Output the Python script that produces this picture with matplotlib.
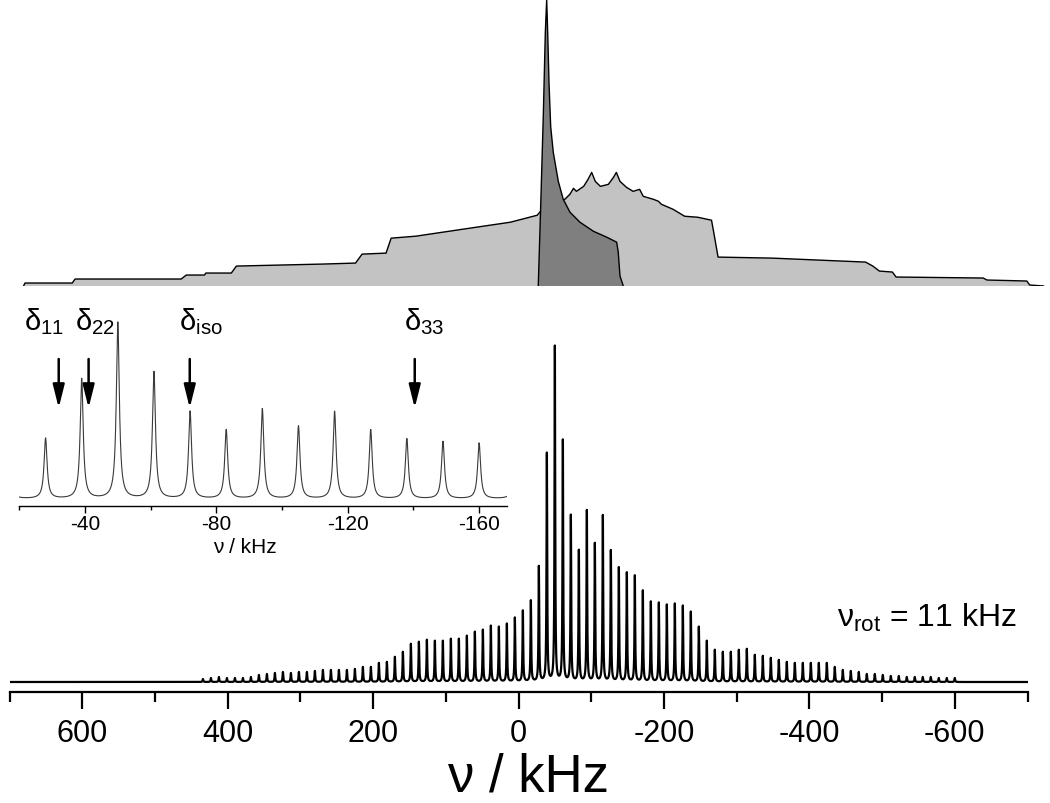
import matplotlib
matplotlib.use("Agg")
import matplotlib.pyplot as plt
import numpy as np
from matplotlib.ticker import FixedLocator, MultipleLocator

plt.rcParams['font.family'] = ['Liberation Sans', 'DejaVu Sans']
plt.rcParams['mathtext.fontset'] = 'custom'
plt.rcParams['mathtext.rm'] = 'Liberation Sans'
plt.rcParams['mathtext.it'] = 'Liberation Sans'
plt.rcParams['mathtext.default'] = 'regular'
plt.rcParams['axes.unicode_minus'] = False

# spinning sidebands of the MAS spectrum (nu_rot = 11 kHz)
sideband_khz = [434, 423, 412, 401, 390, 379, 368, 357, 346, 335, 324, 313, 302,
                291, 280, 269, 258, 247, 236, 225, 214, 203, 192, 181, 170, 159,
                148, 137, 126, 115, 104, 93, 82, 71, 60, 49, 38, 27, 16, 5, -6,
                -17, -28, -39, -50, -61, -72, -83, -94, -105, -116, -127, -138,
                -149, -160, -171, -182, -193, -204, -215, -226, -237, -248, -259,
                -270, -281, -292, -303, -314, -325, -336, -347, -358, -369, -380,
                -391, -402, -413, -424, -435, -446, -457, -468, -479, -490, -501,
                -512, -523, -534, -545, -556, -567, -578, -589, -600]
sideband_int = [3, 4, 5, 4, 4, 4, 5, 7, 8, 9, 10, 9, 10,
                10, 11, 12, 12, 12, 12, 13, 15, 15, 19, 20, 25, 30,
                38, 40, 42, 41, 41, 43, 43, 46, 50, 52, 56, 55, 58, 64, 71,
                81, 115, 228, 335, 241, 166, 131, 171, 138, 166, 131, 114,
                109, 106, 91, 80, 79, 77, 78, 76, 70, 55, 41,
                32, 30, 30, 32, 33, 27, 26, 24, 22, 20, 19,
                19, 19, 19, 19, 15, 12, 11, 10, 8, 8, 7,
                6, 6, 5, 5, 5, 5, 4, 4, 4]
line_hwhm_khz = 0.55
inset_scale = 1 / 1.9

# simulated static pattern (top): total and second site
sim_total_khz = [681, 679, 614, 610, 464, 457, 432, 430, 395, 388, 270, 224, 215,
                 182, 175, 141, 67, 11, -26, -33, -64, -71, -76, -80, -90, -96,
                 -101, -106, -113, -124, -131, -135, -140, -149, -158, -167, -172,
                 -186, -193, -197, -213, -229, -247, -266, -269, -275, -349, -478,
                 -488, -497, -515, -520, -640, -645, -700, -704, -723]
sim_total_int = [0, 3, 3, 7, 7, 11, 11, 13, 13, 20, 22, 23, 32,
                 33, 48, 50, 58, 64, 71, 77, 87, 92, 98, 95, 100, 107,
                 114, 105, 100, 102, 109, 114, 105, 99, 95, 97, 90,
                 87, 85, 82, 77, 70, 69, 66, 54, 29, 28, 24,
                 20, 15, 14, 9, 8, 6, 5, 1, 0]
sim_site_khz = [-27.5, -30.6, -34.4, -37.2, -39.1, -40.5, -42.3, -44.6, -48.2,
                -55.1, -61.9, -71.2, -84.9, -103.2, -121.7, -135.4, -137.6,
                -140.0, -144.5]
sim_site_int = [0, 74, 170, 254, 287, 254, 204, 160, 134,
                105, 87, 74, 64, 55, 49, 44, 34, 10, 0]

main_ticks = [600, 400, 200, 0, -200, -400, -600]
inset_ticks = [-40, -80, -120, -160]
inset_minor = [-20, -60, -100, -140]
tensor_names = ['11', '22', 'iso', '33']
tensor_khz = [-32.0, -41.1, -71.9, -140.4]
tensor_label_khz = [-21.5, -37.0, -68.5, -137.0]

W, H = 1050, 804
fig = plt.figure(figsize=(W / 100, H / 100), dpi=100)


def px_axes(left, top, right, bottom):
    return fig.add_axes([left / W, 1 - bottom / H, (right - left) / W, (bottom - top) / H])


nu = np.linspace(710, -710, 28401)
spec = np.zeros_like(nu)
for f, h in zip(sideband_khz, sideband_int):
    spec += h / (1 + ((nu - f) / line_hwhm_khz) ** 2)

# top: simulated lineshapes
ax_top = px_axes(0, 0, 1050, 287)
ax_top.fill(sim_total_khz, sim_total_int, color='#c3c3c3', lw=0, zorder=1)
ax_top.plot(sim_total_khz, sim_total_int, color='black', lw=1.0, zorder=2)
ax_top.fill(sim_site_khz, sim_site_int, color='#7f7f7f', lw=0, zorder=3)
ax_top.plot(sim_site_khz, sim_site_int, color='black', lw=1.0, zorder=4)
ax_top.set_xlim(713.4, -731.9)
ax_top.set_ylim(0, 288)
ax_top.axis('off')

# main MAS spectrum
ax = px_axes(9.5, 300, 1027.5, 693)
ax.plot(nu, spec, color='black', lw=1.6)
ax.set_xlim(700, -700)
ax.set_ylim(-10, 383)
for s in ['left', 'right', 'top']:
    ax.spines[s].set_visible(False)
ax.spines['bottom'].set_linewidth(1.6)
ax.set_yticks([])
ax.xaxis.set_major_locator(FixedLocator(main_ticks))
ax.xaxis.set_minor_locator(MultipleLocator(100))
ax.tick_params(axis='x', which='major', direction='out', length=12, width=1.6,
               labelsize=22, pad=7)
ax.tick_params(axis='x', which='minor', direction='out', length=7, width=1.6)
ax.patch.set_visible(False)

fig.text(528 / W, 1 - 778 / H, 'ν / kHz', fontsize=38, ha='center', va='center')
fig.text(837 / W, 1 - 627 / H, r'$ν_{rot}$ = 11 kHz', fontsize=23,
         ha='left', va='baseline')

# inset: zoom of the central sidebands
axi = px_axes(19.3, 300, 506.7, 507)
axi.plot(nu, spec * inset_scale, color='#3a3a3a', lw=0.8)
axi.set_xlim(-20, -168.4)
axi.set_ylim(-7, 200)
for s in ['left', 'right', 'top']:
    axi.spines[s].set_visible(False)
axi.spines['bottom'].set_linewidth(1.0)
axi.set_yticks([])
axi.xaxis.set_major_locator(FixedLocator(inset_ticks))
axi.xaxis.set_minor_locator(FixedLocator(inset_minor))
axi.tick_params(axis='x', which='major', direction='out', length=5, width=1.0,
                labelsize=15, pad=1)
axi.tick_params(axis='x', which='minor', direction='out', length=3, width=1.0)
axi.patch.set_visible(False)
fig.text(245 / W, 1 - 548 / H, 'ν / kHz', fontsize=15, ha='center', va='center')

for name, f, fl in zip(tensor_names, tensor_khz, tensor_label_khz):
    axi.text(fl, 500 - 330, r'$δ_{%s}$' % name, fontsize=21, ha='left',
             va='baseline', clip_on=False)
    axi.annotate('', xy=(f, 500 - 409), xytext=(f, 500 - 360),
                 arrowprops=dict(arrowstyle='-|>,head_length=1.4,head_width=0.35',
                                 mutation_scale=10, lw=1.8, color='black',
                                 shrinkA=0, shrinkB=0),
                 annotation_clip=False)

fig.savefig('out.png', dpi=100)
